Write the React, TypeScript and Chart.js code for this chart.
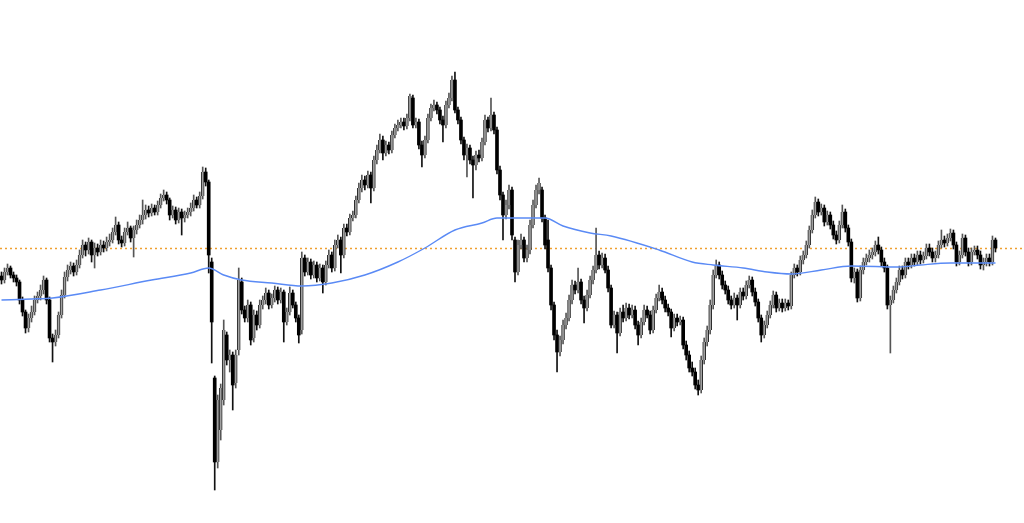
import React, { useEffect, useRef } from "react";
import { Chart, registerables } from "chart.js";

Chart.register(...registerables);

const opens = [
  1724,1720,1728,1732,1725,1722,1718,1700,1688,1672,
  1682,1688,1700,1704,1710,1720,1700,1662,1658,1665,
  1685,1705,1723,1730,1734,1728,1735,1745,1755,1750,
  1758,1745,1752,1748,1755,1752,1758,1760,1768,1775,
  1760,1757,1768,1772,1762,1770,1775,1780,1785,1790,
  1787,1792,1788,1795,1802,1805,1800,1785,1790,1780,
  1788,1782,1785,1788,1792,1800,1795,1804,1828,1818,
  1738,1622,1538,1570,1600,1665,1640,1645,1617,1650,
  1718,1690,1682,1695,1662,1685,1675,1695,1700,1707,
  1695,1702,1710,1700,1708,1678,1688,1707,1695,1682,
  1670,1742,1728,1738,1725,1735,1722,1732,1718,1735,
  1745,1732,1755,1760,1745,1772,1768,1782,1785,1800,
  1812,1820,1815,1825,1812,1840,1850,1860,1847,1855,
  1850,1865,1872,1875,1878,1874,1882,1902,1875,1878,
  1855,1845,1860,1882,1892,1895,1890,1880,1875,1895,
  1902,1920,1890,1880,1860,1845,1852,1840,1835,1845,
  1842,1858,1880,1872,1885,1870,1830,1805,1785,1795,
  1810,1760,1728,1755,1760,1742,1750,1775,1795,1810,
  1810,1782,1760,1732,1695,1665,1648,1660,1675,1682,
  1700,1715,1710,1718,1700,1692,1705,1720,1730,1745,
  1735,1742,1730,1712,1675,1685,1667,1688,1682,1692,
  1685,1690,1675,1665,1678,1690,1685,1670,1690,1702,
  1708,1700,1692,1688,1672,1682,1678,1680,1655,1645,
  1632,1628,1615,1610,1640,1658,1670,1695,1725,1735,
  1725,1715,1710,1700,1695,1702,1695,1708,1704,1715,
  1720,1708,1698,1682,1665,1675,1685,1695,1705,1692,
  1697,1692,1697,1694,1725,1732,1728,1740,1745,1755,
  1770,1785,1798,1788,1792,1778,1785,1775,1765,1760,
  1775,1788,1772,1758,1722,1728,1702,1730,1738,1742,
  1745,1748,1755,1750,1738,1732,1695,1700,1710,1718,
  1730,1725,1738,1735,1742,1738,1745,1740,1744,1752,
  1748,1742,1745,1755,1760,1757,1762,1767,1755,1738,
  1745,1762,1748,1738,1748,1750,1745,1735,1738,1742,
  1738,1760,
];

const highs = [
  1728,1732,1736,1734,1728,1725,1720,1703,1690,1686,
  1694,1704,1708,1715,1724,1722,1703,1666,1670,1688,
  1710,1728,1735,1738,1737,1740,1750,1760,1758,1762,
  1760,1757,1756,1760,1759,1763,1766,1772,1783,1778,
  1764,1772,1778,1774,1774,1780,1785,1800,1795,1794,
  1796,1795,1799,1806,1810,1808,1802,1794,1793,1792,
  1791,1789,1792,1797,1805,1803,1808,1833,1832,1820,
  1742,1624,1605,1616,1680,1668,1650,1648,1650,1732,
  1722,1694,1700,1698,1690,1689,1700,1704,1712,1710,
  1706,1714,1713,1712,1710,1692,1713,1710,1698,1685,
  1748,1745,1742,1741,1739,1738,1736,1735,1739,1750,
  1748,1760,1765,1763,1776,1776,1786,1789,1804,1817,
  1825,1824,1829,1828,1844,1855,1866,1864,1859,1858,
  1869,1876,1880,1882,1882,1886,1906,1905,1882,1881,
  1859,1864,1886,1896,1900,1898,1893,1884,1899,1907,
  1924,1928,1893,1883,1863,1856,1855,1844,1849,1850,
  1862,1885,1883,1902,1888,1873,1834,1808,1800,1815,
  1813,1763,1760,1766,1763,1755,1780,1800,1815,1822,
  1813,1785,1780,1735,1698,1670,1664,1680,1687,1705,
  1720,1719,1732,1721,1704,1710,1724,1734,1772,1749,
  1747,1746,1734,1715,1689,1688,1692,1695,1697,1696,
  1695,1694,1679,1682,1695,1694,1689,1694,1706,1715,
  1712,1704,1696,1691,1686,1686,1684,1683,1659,1649,
  1638,1632,1620,1644,1662,1674,1700,1730,1740,1738,
  1729,1719,1714,1704,1707,1705,1712,1712,1719,1724,
  1723,1712,1701,1685,1679,1689,1699,1709,1708,1701,
  1701,1701,1700,1728,1736,1735,1744,1749,1759,1774,
  1790,1803,1801,1796,1795,1789,1788,1779,1769,1779,
  1795,1791,1775,1761,1732,1731,1734,1742,1746,1750,
  1752,1759,1763,1753,1742,1735,1704,1714,1722,1734,
  1734,1742,1742,1746,1746,1749,1749,1748,1756,1756,
  1752,1749,1759,1770,1764,1766,1771,1770,1758,1749,
  1766,1765,1752,1752,1754,1754,1749,1742,1746,1746,
  1764,1762,
];

const lows = [
  1716,1717,1725,1722,1718,1714,1696,1684,1667,1668,
  1678,1685,1697,1700,1706,1696,1658,1638,1654,1662,
  1682,1702,1719,1726,1724,1725,1732,1742,1744,1746,
  1738,1732,1744,1745,1748,1749,1754,1757,1765,1756,
  1753,1754,1765,1758,1743,1766,1772,1776,1781,1783,
  1784,1785,1785,1792,1799,1796,1780,1782,1776,1777,
  1765,1778,1782,1784,1789,1792,1792,1801,1814,1727,
  1637,1510,1532,1560,1595,1635,1628,1590,1612,1645,
  1686,1678,1678,1655,1658,1670,1672,1691,1696,1691,
  1692,1698,1696,1697,1658,1675,1685,1692,1678,1657,
  1666,1724,1725,1721,1722,1718,1719,1707,1715,1732,
  1728,1729,1752,1727,1742,1764,1765,1779,1782,1797,
  1808,1810,1812,1797,1809,1836,1847,1840,1844,1846,
  1847,1862,1869,1872,1870,1871,1879,1872,1872,1851,
  1833,1842,1857,1879,1889,1886,1876,1858,1872,1892,
  1899,1887,1876,1856,1840,1823,1836,1802,1830,1838,
  1839,1855,1868,1869,1866,1826,1800,1760,1781,1791,
  1760,1718,1725,1751,1738,1738,1746,1772,1792,1806,
  1778,1751,1728,1690,1660,1628,1644,1656,1671,1679,
  1696,1706,1707,1696,1677,1689,1702,1716,1727,1731,
  1732,1727,1708,1672,1672,1647,1664,1678,1679,1681,
  1682,1671,1655,1662,1675,1682,1666,1667,1687,1699,
  1696,1688,1684,1663,1669,1674,1675,1651,1640,1628,
  1624,1611,1605,1607,1636,1654,1666,1691,1722,1721,
  1711,1706,1696,1691,1692,1680,1692,1700,1701,1712,
  1704,1694,1678,1658,1662,1672,1682,1692,1688,1689,
  1688,1689,1690,1691,1722,1724,1725,1736,1742,1752,
  1767,1782,1784,1785,1774,1775,1771,1761,1756,1757,
  1772,1768,1754,1718,1717,1698,1699,1726,1735,1738,
  1741,1744,1746,1734,1728,1691,1647,1697,1707,1715,
  1721,1722,1731,1732,1734,1735,1736,1737,1741,1744,
  1738,1738,1742,1752,1753,1754,1759,1751,1734,1735,
  1742,1744,1734,1735,1745,1741,1731,1730,1734,1734,
  1735,1748,
];

const closes = [
  1720,1728,1732,1725,1722,1718,1700,1688,1672,1682,
  1688,1700,1704,1710,1720,1700,1662,1658,1665,1685,
  1705,1723,1730,1734,1728,1735,1745,1755,1750,1758,
  1745,1752,1748,1755,1752,1758,1760,1768,1775,1760,
  1757,1768,1772,1762,1770,1775,1780,1785,1790,1787,
  1792,1788,1795,1802,1805,1800,1785,1790,1780,1788,
  1782,1785,1788,1792,1800,1795,1804,1828,1818,1745,
  1678,1538,1600,1612,1670,1640,1645,1615,1645,1720,
  1690,1682,1695,1660,1685,1675,1695,1700,1707,1695,
  1702,1710,1700,1708,1678,1688,1707,1695,1682,1665,
  1742,1728,1738,1725,1735,1722,1732,1718,1735,1745,
  1732,1755,1760,1745,1772,1768,1782,1785,1800,1812,
  1820,1815,1825,1812,1840,1850,1860,1847,1855,1850,
  1865,1872,1875,1878,1874,1882,1904,1875,1878,1855,
  1845,1860,1882,1892,1895,1890,1880,1875,1895,1902,
  1920,1890,1880,1860,1845,1852,1840,1835,1845,1842,
  1858,1880,1872,1885,1870,1830,1805,1785,1795,1810,
  1765,1728,1755,1760,1742,1750,1775,1795,1810,1817,
  1782,1755,1732,1695,1665,1648,1660,1675,1682,1700,
  1715,1710,1718,1700,1692,1705,1720,1730,1745,1735,
  1742,1730,1712,1675,1685,1667,1688,1682,1692,1685,
  1690,1675,1665,1678,1690,1685,1670,1690,1702,1708,
  1700,1692,1688,1672,1682,1678,1680,1655,1645,1632,
  1628,1615,1610,1640,1658,1670,1695,1725,1735,1725,
  1715,1710,1700,1695,1702,1695,1708,1704,1715,1720,
  1708,1698,1682,1665,1675,1685,1695,1705,1692,1697,
  1692,1697,1694,1725,1732,1728,1740,1745,1755,1770,
  1785,1798,1788,1792,1778,1785,1775,1765,1760,1775,
  1788,1772,1758,1722,1728,1702,1730,1738,1742,1745,
  1748,1755,1750,1738,1732,1695,1700,1710,1718,1730,
  1725,1738,1735,1742,1738,1745,1740,1744,1752,1748,
  1742,1745,1755,1760,1757,1762,1767,1755,1738,1745,
  1762,1748,1738,1748,1750,1745,1735,1738,1742,1738,
  1760,1752,
];

// moving average read at sample candles
const maIndex = [0, 10, 17, 33, 50, 63, 69, 74, 80, 90, 100, 110, 121, 132, 141, 151, 160, 165, 175, 181, 187, 196, 203, 219, 230, 237, 247, 255, 263, 273, 283, 299, 306, 316, 326, 331];
const maValue = [1700, 1701, 1702, 1710, 1720, 1727, 1732, 1725, 1720, 1717, 1714, 1717, 1725, 1738, 1752, 1770, 1777, 1782, 1782, 1782, 1774, 1767, 1764, 1750, 1738, 1735, 1732, 1728, 1726, 1730, 1734, 1733, 1735, 1737, 1737, 1737];

const lastPrice = 1752;
const slotCount = 341;
const yMin = 1477;
const yMax = 2000;

export default function App() {
  const ref = useRef<HTMLCanvasElement | null>(null);

  useEffect(() => {
    if (!ref.current) return;
    const labels = Array.from({ length: slotCount }, (_, i) => String(i));
    const up = closes.map((c, i) => c >= opens[i]);
    const bodies = closes.map((c, i) => [opens[i], c]);
    const wicks = closes.map((_, i) => [lows[i], highs[i]]);
    const ma = maIndex.map((idx, k) => ({ x: String(idx), y: maValue[k] }));

    const priceLine = {
      id: "priceLine",
      beforeDatasetsDraw(chart: any) {
        const { ctx, chartArea, scales } = chart;
        const y = Math.round(scales.y.getPixelForValue(lastPrice)) + 0.5;
        ctx.save();
        ctx.strokeStyle = "#f0a030";
        ctx.lineWidth = 1.3;
        ctx.setLineDash([2, 3]);
        ctx.beginPath();
        ctx.moveTo(chartArea.left, y);
        ctx.lineTo(chartArea.right, y);
        ctx.stroke();
        ctx.restore();
      },
    };

    const chart = new Chart(ref.current, {
      type: "bar",
      data: {
        labels,
        datasets: [
          {
            type: "line",
            label: "MA",
            data: ma as any,
            borderColor: "#5a8af5",
            borderWidth: 1.4,
            pointRadius: 0,
            tension: 0.4,
            cubicInterpolationMode: "monotone",
            fill: false,
            order: 0,
          } as any,
          {
            label: "body",
            data: bodies as any,
            backgroundColor: up.map((u) => (u ? "#a0a0a0" : "#000000")),
            borderColor: up.map((u) => (u ? "#2a2a2a" : "#000000")),
            borderWidth: up.map((u) => (u ? { left: 1, right: 1, top: 0, bottom: 0 } : 0)),
            borderSkipped: false,
            barThickness: 3,
            grouped: false,
            minBarLength: 1,
            order: 1,
          } as any,
          {
            label: "wick",
            data: wicks as any,
            backgroundColor: up.map((u) => (u ? "#555555" : "#111111")),
            borderWidth: 0,
            barThickness: 1,
            grouped: false,
            order: 2,
          } as any,
        ],
      },
      options: {
        responsive: false,
        maintainAspectRatio: false,
        animation: false,
        layout: { padding: 0 },
        plugins: {
          legend: { display: false },
          tooltip: { enabled: false },
        },
        scales: {
          x: { type: "category", display: false, offset: true, grid: { display: false } },
          y: { display: false, min: yMin, max: yMax, grid: { display: false } },
        },
      },
      plugins: [priceLine],
    });
    return () => chart.destroy();
  }, []);

  return (
    <div style={{ position: "fixed", left: 0, top: 0, width: 1024, height: 523, background: "#fff" }}>
      <canvas ref={ref} width={1024} height={523} style={{ display: "block" }} />
    </div>
  );
}
